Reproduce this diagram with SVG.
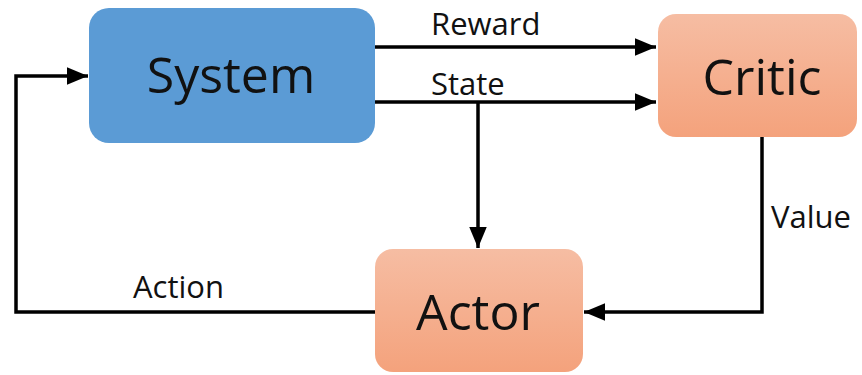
<svg xmlns="http://www.w3.org/2000/svg" width="862" height="375" viewBox="0 0 862 375">
  <style>
    .lbl { font-family: "Open Sans", "Noto Sans", sans-serif; fill: #111; }
    .big { font-size: 50px; }
    .small { font-size: 31px; }
    .wire { fill: none; stroke: #000; stroke-width: 3.5; }
  </style>
  <defs>
    <linearGradient id="peach" x1="0" y1="0" x2="0" y2="1">
      <stop offset="0" stop-color="#F6BDA3"/>
      <stop offset="1" stop-color="#F4A27C"/>
    </linearGradient>
    <marker id="head" markerWidth="6" markerHeight="5" refX="6" refY="2.5" orient="auto" markerUnits="strokeWidth">
      <path d="M0,0 L6,2.5 L0,5 Z" fill="#000"/>
    </marker>
  </defs>
  <rect width="862" height="375" fill="#fff"/>

  <g id="connectors">
    <path class="wire" d="M375,47 H656" marker-end="url(#head)"/>
    <path class="wire" d="M375,102 H656" marker-end="url(#head)"/>
    <path class="wire" d="M478,102 V248" marker-end="url(#head)"/>
    <path class="wire" d="M762,137 V312 H584" marker-end="url(#head)"/>
    <path class="wire" d="M375,312 H16 V76 H88" marker-end="url(#head)"/>
    <text class="lbl small" x="431" y="35">Reward</text>
    <text class="lbl small" x="431" y="95">State</text>
    <text class="lbl small" x="771" y="228">Value</text>
    <text class="lbl small" x="133" y="298">Action</text>
  </g>

  <g id="system">
    <rect x="89" y="8" width="286" height="135" rx="20" fill="#5B9BD5"/>
    <text class="lbl big" x="231" y="93" text-anchor="middle">System</text>
  </g>

  <g id="critic">
    <rect x="658" y="14" width="199" height="123" rx="18" fill="url(#peach)"/>
    <text class="lbl big" x="762" y="95" text-anchor="middle">Critic</text>
  </g>

  <g id="actor">
    <rect x="375" y="249" width="208" height="123" rx="18" fill="url(#peach)"/>
    <text class="lbl big" x="478" y="330" text-anchor="middle">Actor</text>
  </g>
</svg>
